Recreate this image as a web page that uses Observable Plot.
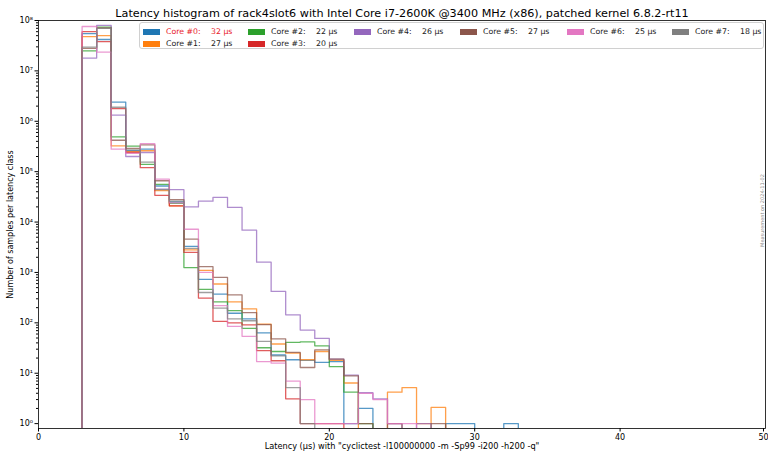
<!DOCTYPE html>
<html><head><meta charset="utf-8">
<script src="https://cdn.jsdelivr.net/npm/d3@7"></script>
<script src="https://cdn.jsdelivr.net/npm/@observablehq/plot@0.6"></script>
<style>
body{margin:0;background:#fff;}
#wrap{position:relative;width:768px;height:454px;font-family:"DejaVu Sans",sans-serif;}
#legend{position:absolute;left:139px;top:22px;width:625px;height:27px;border:1px solid #d0d0d0;border-radius:3px;background:rgba(255,255,255,0.85);box-sizing:border-box;}
.ent{position:absolute;font-size:7.8px;line-height:9px;color:#222;white-space:nowrap;}
.patch{position:absolute;width:17px;height:6px;}
</style></head><body><div id="wrap"><div id="chart"></div><div id="legend"></div></div>
<script>
const coreNames = ["Core #0","Core #1","Core #2","Core #3","Core #4","Core #5","Core #6","Core #7"];
const maxLatency = [32,27,22,20,26,27,25,18];
const colors = ["#1f77b4","#ff7f0e","#2ca02c","#d62728","#9467bd","#8c564b","#e377c2","#7f7f7f"];
const firstBin = 3;
// counts per 1 µs latency class, starting at 3 µs (0 = empty class)
const core0 = [5.5e7,4.2e7,2.4e6,2.6e5,2.8e5,5.2e4,2.5e4,3.3e3,730,370,155,120,63,23,18.5,18,16.4,17,1,2,0,0,0,0,0,1,1,0,0,1];
const core1 = [4.8e7,5.0e7,3.25e5,2.5e5,2.6e5,4.2e4,2.1e4,2.8e3,1100,590,260,190,94,38,25,18.5,27,18,6.4,0,0,4.2,5.2,1,2.1];
const core2 = [2.5e7,7.4e7,4.9e5,3.2e5,1.4e5,5.6e4,2.35e4,1250,460,260,175,78,32,27,41,42,35,13.5,4.2,1];
const core3 = [6.0e7,3.8e7,1.78e6,2.4e5,1.2e5,3.4e4,2.1e4,2.5e3,310,107,100,91,28,17.7,3.1,1,1,1];
const core4 = [1.8e7,8.0e7,1.32e6,2.0e5,2.4e5,4.5e4,4.4e4,2.0e4,2.6e4,3.1e4,1.95e4,6.9e3,1.6e3,420,144,72,49,19,9.2,4.1,3.1,1,0,1];
const core5 = [2.8e7,7.1e7,4.2e5,2.9e5,3.4e5,6.6e4,2.8e4,4.6e3,1300,800,360,160,92,48,26,13,29,19,8.9,1,0,1,0,0,1];
const core6 = [7.6e7,2.35e7,2.8e5,2.3e5,3.6e5,7.1e4,2.4e4,7.2e3,1000,220,85,54,17,15.8,7,3,1,1,1,4,3,1,1];
const core7 = [2.95e7,7.0e7,1.9e6,2.7e5,1.55e5,4.4e4,2.6e4,3.0e3,400,195,120,110,43,22,5.2,1];
const coreCounts = [core0,core1,core2,core3,core4,core5,core6,core7];
const xTicks = [0,10,20,30,40,50];
const yTicks = [1,10,100,1e3,1e4,1e5,1e6,1e7,1e8];
const yTickLabels = ["10⁰","10¹","10²","10³","10⁴","10⁵","10⁶","10⁷","10⁸"];
const title = "Latency histogram of rack4slot6 with Intel Core i7-2600K @3400 MHz (x86), patched kernel 6.8.2-rt11";
const xLabel = "Latency (µs) with \"cyclictest -l100000000 -m -Sp99 -i200 -h200 -q\"";
const yLabel = "Number of samples per latency class";
const sideNote = "Measurement on 2024-11-02";

const FLOOR = 0.5;
const rows = [];
coreCounts.forEach((arr, i) => {
  rows.push({core: i, x: firstBin, y: FLOOR});
  arr.forEach((v, j) => rows.push({core: i, x: firstBin + j, y: v > 0 ? v : FLOOR}));
  rows.push({core: i, x: firstBin + arr.length, y: FLOOR});
});
const yMinor = [];
for (let e = 0; e < 8; e++) for (let m = 2; m <= 9; m++) yMinor.push(m * Math.pow(10, e));

const lineMarks = coreCounts.map((arr, i) => Plot.line(rows.filter(r => r.core === i), {
  x: "x", y: "y", curve: "step-after", stroke: colors[i], strokeWidth: 1.3, strokeOpacity: 0.75, clip: true
}));

const chart = Plot.plot({
  width: 768, height: 454,
  marginTop: 20, marginBottom: 26, marginLeft: 38, marginRight: 3,
  style: {fontFamily: "DejaVu Sans", fontSize: "8px", color: "#000", background: "#fff"},
  x: {domain: [0, 50]},
  y: {type: "log", domain: [0.8, 1e8]},
  marks: [
    ...lineMarks,
    Plot.frame({stroke: "#000", strokeWidth: 0.8}),
    Plot.axisX({ticks: xTicks.slice(0, -1), tickSize: 3.5, tickPadding: 2, tickFormat: d => String(d), label: null, fontSize: 8}),
    Plot.axisX({ticks: xTicks.slice(-1), tickSize: 3.5, tickPadding: 2, tickFormat: d => String(d), label: null, fontSize: 8, dx: -2}),
    Plot.axisY({ticks: yTicks, tickSize: 3.5, tickPadding: 2, tickFormat: d => yTickLabels[yTicks.indexOf(d)], label: null, fontSize: 8}),
    Plot.axisY({ticks: yMinor, tickSize: 2, tickFormat: () => "", label: null}),
    Plot.text([title], {frameAnchor: "top", lineAnchor: "bottom", dy: -4, fontSize: 11.2}),
    Plot.text([xLabel], {frameAnchor: "bottom", lineAnchor: "top", dy: 15, fontSize: 8.2}),
    Plot.text([yLabel], {frameAnchor: "left", textAnchor: "middle", dx: -28, rotate: -90, fontSize: 8}),
    Plot.text([sideNote], {frameAnchor: "right", textAnchor: "middle", dx: -3, dy: -14, rotate: -90, fontSize: 5, fill: "#888"})
  ]
});
document.getElementById("chart").appendChild(chart);

const legendCols = [[0,1],[2,3],[4],[5],[6],[7]];
const colPatchX = [142,247,353,459,566,671];
const rowY = [31,43];
const legendLeft = 139, legendTop = 22;
const legend = document.getElementById("legend");
const maxAll = Math.max(...maxLatency);
legendCols.forEach((col, c) => col.forEach((ci, r) => {
  const p = document.createElement("div");
  p.className = "patch";
  p.style.left = (colPatchX[c] - legendLeft) + "px";
  p.style.top = (rowY[r] - legendTop - 3) + "px";
  p.style.background = colors[ci];
  legend.appendChild(p);
  const t = document.createElement("div");
  t.className = "ent";
  t.style.left = (colPatchX[c] - legendLeft + 23) + "px";
  t.style.top = (rowY[r] - legendTop - 5) + "px";
  if (maxLatency[ci] === maxAll) t.style.color = "#e8202a";
  t.textContent = coreNames[ci] + ":";
  legend.appendChild(t);
  const v = document.createElement("div");
  v.className = "ent";
  v.style.left = (colPatchX[c] - legendLeft + 68) + "px";
  v.style.top = (rowY[r] - legendTop - 5) + "px";
  if (maxLatency[ci] === maxAll) v.style.color = "#e8202a";
  v.textContent = maxLatency[ci] + " µs";
  legend.appendChild(v);
}));
</script></body></html>
